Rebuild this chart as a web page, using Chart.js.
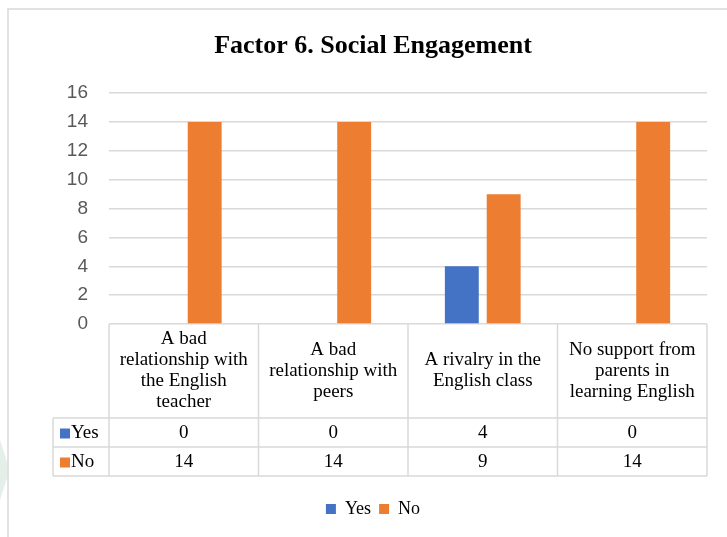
<!DOCTYPE html>
<html>
<head>
<meta charset="utf-8">
<script src="https://cdn.jsdelivr.net/npm/chart.js@4"></script>
<style>
  html, body { margin: 0; padding: 0; background: #fff; }
  #wrap { position: relative; width: 727px; height: 537px; }
</style>
</head>
<body>
<div id="wrap"><canvas id="c"></canvas></div>
<script>
// Categories (each label split into the lines shown in the table header)
const categories = [
  ["A bad", "relationship with", "the English", "teacher"],
  ["A bad", "relationship with", "peers"],
  ["A rivalry in the", "English class"],
  ["No support from", "parents in", "learning English"]
];
const seriesNames = ["Yes", "No"];
const yesValues = [0, 0, 4, 0];
const noValues = [14, 14, 9, 14];
const seriesColors = ["#4472C4", "#ED7D31"];
const yTickMax = 16;
const yTickStep = 2;

const serif = "'Liberation Serif', 'Times New Roman', serif";
const sans = "'Liberation Sans', Arial, sans-serif";
const lineGray = "#d9d9d9";

// Frame around the chart and page background
const framePlugin = {
  id: "frame",
  beforeDraw(chart) {
    const ctx = chart.ctx;
    ctx.save();
    ctx.fillStyle = "#fff";
    ctx.fillRect(0, 0, chart.width, chart.height);
    // faint green shape at the page's left edge
    ctx.fillStyle = "#e3efe8";
    ctx.beginPath();
    ctx.moveTo(0, 440);
    ctx.lineTo(7, 462);
    ctx.lineTo(7, 478);
    ctx.lineTo(0, 500);
    ctx.closePath();
    ctx.fill();
    ctx.strokeStyle = lineGray;
    ctx.lineWidth = 1.5;
    ctx.beginPath();
    ctx.moveTo(8, chart.height);
    ctx.lineTo(8, 9);
    ctx.lineTo(chart.width, 9);
    ctx.stroke();
    ctx.restore();
  }
};

// Data table drawn under the plot, aligned to the category scale
const tablePlugin = {
  id: "dataTable",
  afterDraw(chart) {
    const ctx = chart.ctx;
    const x = chart.scales.x;
    const area = chart.chartArea;
    const n = categories.length;
    const step = x.getPixelForValue(1) - x.getPixelForValue(0);
    const edges = [];
    for (let i = 0; i <= n; i++) edges.push(x.getPixelForValue(0) - step / 2 + i * step);

    const headTop = area.bottom;
    const headBottom = 418;
    const rowH = 29;
    const rows = [yesValues, noValues];
    const labelLeft = 53;
    const tableBottom = headBottom + rowH * rows.length;

    ctx.save();
    ctx.strokeStyle = lineGray;
    ctx.lineWidth = 1.5;
    ctx.beginPath();
    edges.forEach(e => { ctx.moveTo(e, headTop); ctx.lineTo(e, tableBottom); });
    for (let r = 0; r <= rows.length; r++) {
      const y = headBottom + r * rowH;
      ctx.moveTo(labelLeft, y);
      ctx.lineTo(edges[n], y);
    }
    ctx.moveTo(labelLeft, headBottom);
    ctx.lineTo(labelLeft, tableBottom);
    ctx.stroke();

    ctx.fillStyle = "#000";
    ctx.font = "19px " + serif;
    ctx.textAlign = "center";
    ctx.textBaseline = "middle";
    const lh = 21;
    const headMid = (headTop + headBottom) / 2;
    categories.forEach((lines, i) => {
      const cx = (edges[i] + edges[i + 1]) / 2;
      const y0 = headMid - (lines.length - 1) * lh / 2;
      lines.forEach((t, k) => ctx.fillText(t, cx, y0 + k * lh));
    });

    rows.forEach((vals, r) => {
      const cy = headBottom + r * rowH + rowH / 2 + 1;
      vals.forEach((v, i) => {
        ctx.fillStyle = "#000";
        ctx.textAlign = "center";
        ctx.fillText(String(v), (edges[i] + edges[i + 1]) / 2, cy);
      });
      ctx.fillStyle = seriesColors[r];
      ctx.fillRect(60, cy - 5, 10, 10);
      ctx.fillStyle = "#000";
      ctx.textAlign = "left";
      ctx.fillText(seriesNames[r], 71, cy);
    });
    ctx.restore();
  }
};

new Chart(document.getElementById("c"), {
  type: "bar",
  data: {
    labels: categories,
    datasets: [
      { label: seriesNames[0], data: yesValues, backgroundColor: seriesColors[0],
        categoryPercentage: 0.56, barPercentage: 0.81 },
      { label: seriesNames[1], data: noValues, backgroundColor: seriesColors[1],
        categoryPercentage: 0.56, barPercentage: 0.81 }
    ]
  },
  options: {
    responsive: true,
    maintainAspectRatio: false,
    animation: false,
    layout: { padding: { top: 31, left: 39, right: 20, bottom: 9 } },
    plugins: {
      title: {
        display: true,
        text: "Factor 6. Social Engagement",
        color: "#000",
        font: { family: serif, size: 26, weight: "bold", lineHeight: 1.2 },
        padding: { top: 0, bottom: 31 }
      },
      legend: {
        display: true,
        position: "bottom",
        labels: {
          color: "#000",
          font: { family: serif, size: 18 },
          boxWidth: 10,
          boxHeight: 10,
          padding: 8
        }
      },
      tooltip: { enabled: false }
    },
    scales: {
      x: {
        display: true,
        grid: { display: false },
        border: { display: false },
        ticks: { display: false },
        afterFit(s) { s.height = 168; }
      },
      y: {
        min: 0,
        max: yTickMax,
        ticks: { stepSize: yTickStep, padding: 21, color: "#595959",
                 font: { family: sans, size: 19 } },
        grid: { color: lineGray, lineWidth: 1.5, drawTicks: false },
        border: { display: false },
        afterFit(s) { s.width = 70; }
      }
    }
  },
  plugins: [framePlugin, tablePlugin]
});
</script>
</body>
</html>
